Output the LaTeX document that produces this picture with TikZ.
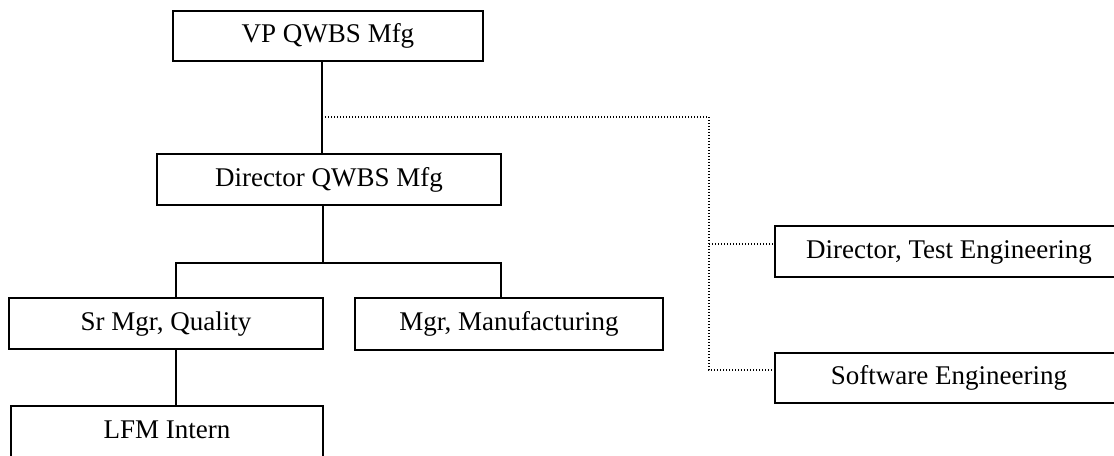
\documentclass[tikz,border=0pt]{standalone}
\usepackage{fontspec}
\setmainfont{Liberation Serif}
\begin{document}
\begin{tikzpicture}[x=1bp,y=-1bp,
  orgbox/.style={draw=black,line width=1.8bp,rectangle,inner sep=0pt,
    text height=18bp,text depth=4bp,
    font=\fontsize{27bp}{32bp}\selectfont},
  link/.style={draw=black,line width=1.5bp},
  dotlink/.style={draw=black,line width=1.3bp,dash pattern=on 1bp off 2bp}]
\useasboundingbox (0,0) rectangle (1114,456);
\clip (0,0) rectangle (1114,456);

% boxes
\node[orgbox,minimum width=310bp,minimum height=50bp] (vp)  at (328,36)    {VP QWBS Mfg};
\node[orgbox,minimum width=344bp,minimum height=51bp] (dir) at (329,179.5) {Director QWBS Mfg};
\node[orgbox,minimum width=314bp,minimum height=51bp] (srq) at (166,323.5) {Sr Mgr, Quality};
\node[orgbox,minimum width=308bp,minimum height=52bp] (mfg) at (509,324)   {Mgr, Manufacturing};
\node[orgbox,minimum width=312bp,minimum height=52bp] (lfm) at (167,432)   {LFM Intern};
\node[orgbox,minimum width=348bp,minimum height=51bp] (dte) at (949,251.5) {Director, Test Engineering};
\node[orgbox,minimum width=348bp,minimum height=50bp] (swe) at (949,378)   {Software Engineering};

% routing points
\coordinate (spine)  at (322,117);
\coordinate (dspine) at (323,263);
\coordinate (lbr)    at (176,263);
\coordinate (rbr)    at (501,263);
\coordinate (dcorn)  at (709,117);
\coordinate (dteTap) at (709,244);
\coordinate (sweTap) at (709,370);

% solid reporting lines
\draw[link] (vp.south -| spine) -- (dir.north -| spine);
\draw[link] (dir.south -| dspine) -- (dspine);
\draw[link] (srq.north -| lbr) -- (lbr) -- (rbr) -- (mfg.north -| rbr);
\draw[link] (srq.south -| lbr) -- (lfm.north -| lbr);

% dotted reporting lines
\draw[dotlink] (spine) -- (dcorn) -- (sweTap) -- (swe.west |- sweTap);
\draw[dotlink] (dteTap) -- (dte.west |- dteTap);
\end{tikzpicture}
\end{document}
